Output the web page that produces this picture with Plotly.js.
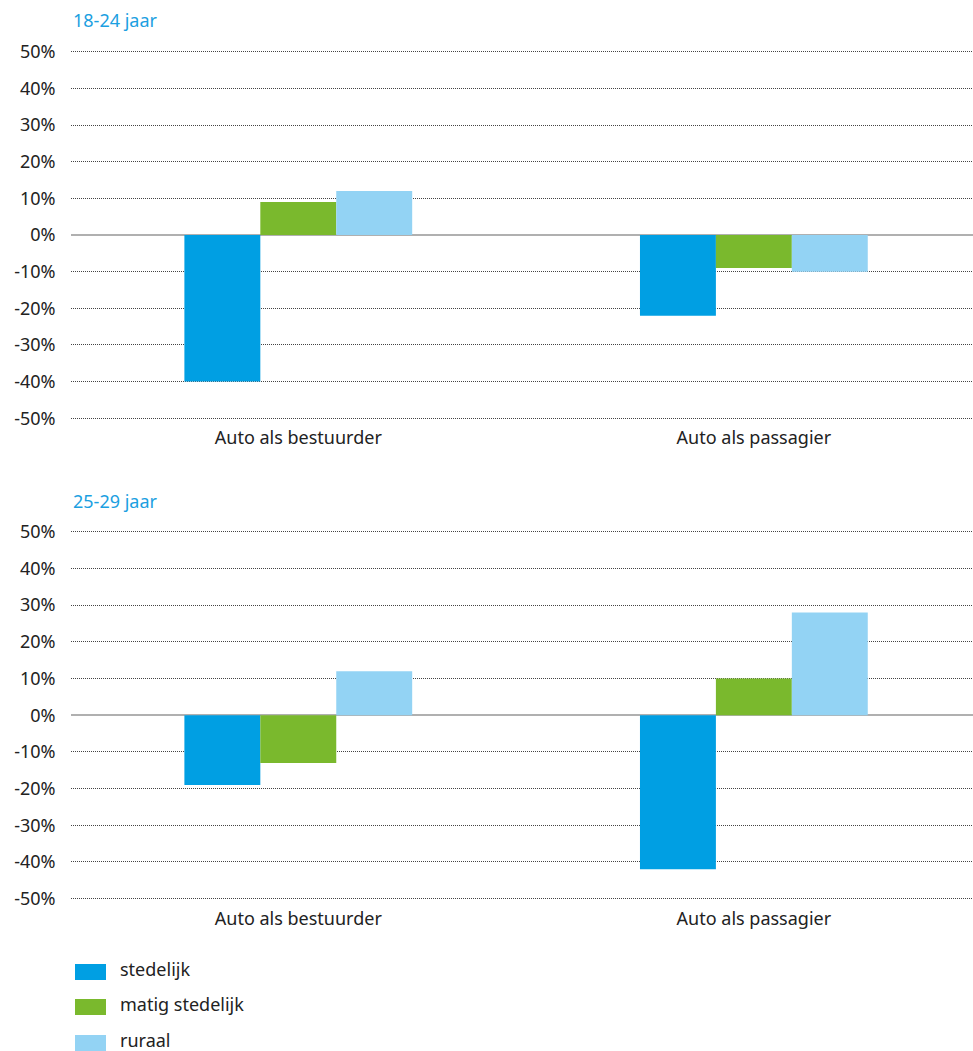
<!DOCTYPE html>
<html>
<head>
<meta charset="utf-8">
<script src="https://cdn.plot.ly/plotly-3.0.1.min.js"></script>
<style>html,body{margin:0;padding:0;background:#fff;}#chart{width:973px;height:1051px;}</style>
</head>
<body>
<div id="chart"></div>
<script>
// ---- data ----
const categories = ["Auto als bestuurder", "Auto als passagier"];
const seriesNames = ["stedelijk", "matig stedelijk", "ruraal"];
const seriesColors = ["#009fe3", "#7ab92d", "#93d3f4"];
const panelTitles = ["18-24 jaar", "25-29 jaar"];
// panel 1: 18-24 jaar
const age1824_stedelijk = [-40, -22];
const age1824_matig = [9, -9];
const age1824_ruraal = [12, -10];
// panel 2: 25-29 jaar
const age2529_stedelijk = [-19, -42];
const age2529_matig = [-13, 10];
const age2529_ruraal = [12, 28];
const yTickVals = [-50, -40, -30, -20, -10, 0, 10, 20, 30, 40, 50];
const yTickText = ["-50%", "-40%", "-30%", "-20%", "-10%", "0%", "10%", "20%", "30%", "40%", "50%"];

// ---- layout helpers ----
const W = 973, H = 1051;
const fx = px => px / W;
const fy = py => 1 - py / H;
const FONT = "Noto Sans, Open Sans, sans-serif";

const panels = [
  [age1824_stedelijk, age1824_matig, age1824_ruraal],
  [age2529_stedelijk, age2529_matig, age2529_ruraal]
];

const traces = [];
panels.forEach((p, pi) => {
  p.forEach((vals, si) => {
    traces.push({
      type: "bar",
      x: categories,
      y: vals,
      name: seriesNames[si],
      marker: {color: seriesColors[si], line: {width: 0}},
      xaxis: pi === 0 ? "x" : "x2",
      yaxis: pi === 0 ? "y" : "y2",
      showlegend: false,
      hoverinfo: "skip"
    });
  });
});

function yax(top, bottom) {
  return {
    domain: [fy(bottom), fy(top)],
    range: [-50.5, 50.5],
    tickvals: yTickVals,
    ticktext: yTickText,
    showgrid: true,
    gridcolor: "#444",
    griddash: "1px,1px",
    gridwidth: 1,
    zeroline: true,
    zerolinecolor: "#b0b0b0",
    zerolinewidth: 2,
    showline: false,
    ticks: "",
    ticklabelstandoff: 14,
    tickfont: {family: FONT, size: 18, color: "#222"},
    fixedrange: true
  };
}
function xax(anchor) {
  return {
    domain: [fx(70.5), 1],
    range: [-0.5, 1.481],
    anchor: anchor,
    showgrid: false,
    zeroline: false,
    showline: false,
    ticks: "",
    ticklabelstandoff: 5,
    tickfont: {family: FONT, size: 18, color: "#222"},
    fixedrange: true
  };
}

const shapes = [];
const annotations = [];
panelTitles.forEach((t, i) => {
  annotations.push({
    text: t, xref: "paper", yref: "paper",
    x: fx(71), y: fy(i === 0 ? 20 : 501),
    xanchor: "left", yanchor: "middle", showarrow: false,
    font: {family: FONT, size: 18, color: "#1ba0e1"}
  });
});
const legendY = [972, 1007, 1043];
seriesNames.forEach((n, i) => {
  shapes.push({
    type: "rect", xref: "paper", yref: "paper",
    x0: fx(75), x1: fx(106), y0: fy(legendY[i] - 8), y1: fy(legendY[i] + 8),
    fillcolor: seriesColors[i], line: {width: 0}
  });
  annotations.push({
    text: n, xref: "paper", yref: "paper",
    x: fx(119), y: fy(legendY[i] - 3),
    xanchor: "left", yanchor: "middle", showarrow: false, borderpad: 0,
    font: {family: FONT, size: 18, color: "#222"}
  });
});

const layout = {
  width: W, height: H,
  margin: {l: 0, r: 0, t: 0, b: 0},
  paper_bgcolor: "#fff",
  plot_bgcolor: "rgba(0,0,0,0)",
  barmode: "group",
  bargap: 0.5,
  bargroupgap: 0,
  showlegend: false,
  font: {family: FONT, size: 18, color: "#222"},
  xaxis: xax("y"),
  yaxis: yax(51.7 - 1.8, 418.3 + 1.8),
  xaxis2: xax("y2"),
  yaxis2: yax(531.7 - 1.8, 898.7 + 1.8),
  shapes: shapes,
  annotations: annotations
};

Plotly.newPlot("chart", traces, layout, {displayModeBar: false, staticPlot: true});
</script>
</body>
</html>
